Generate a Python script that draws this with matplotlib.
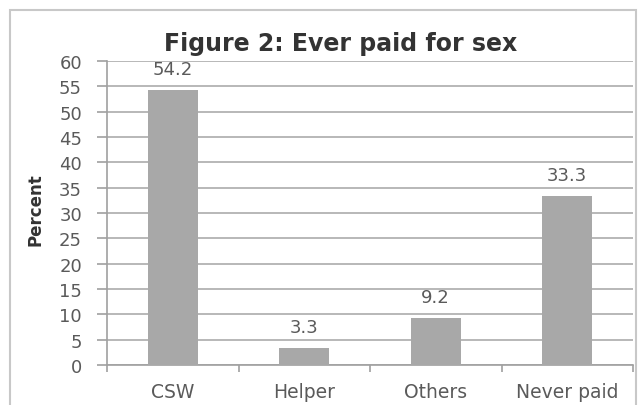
import matplotlib.pyplot as plt
from matplotlib.patches import Rectangle

categories = ["CSW", "Helper", "Others", "Never paid"]
percent = [54.2, 3.3, 9.2, 33.3]
yticks = list(range(0, 65, 5))

plt.rcParams['font.family'] = ['DejaVu Sans']

fig = plt.figure(figsize=(6.38, 4.06), dpi=100)
W, H = 638, 406

# outer chart frame
fig.patches.append(Rectangle((10 / W, -0.05), 626 / W, 1.05 - 11 / H,
                             transform=fig.transFigure, fill=False,
                             edgecolor="#c8c8c8", linewidth=1.5))

ax = fig.add_axes([107 / W, 1 - 366 / H, (633 - 107) / W, (366 - 62) / H])

x = list(range(len(categories)))
ax.bar(x, percent, width=0.38, color="#a8a8a8", zorder=3)

for xi, v in zip(x, percent):
    ax.text(xi, v + 2.5, "%.1f" % v, ha="center", va="bottom",
            fontsize=13, color="#5a5a5a")

ax.set_xlim(-0.5, len(categories) - 0.5)
ax.set_ylim(0, 60)
ax.set_yticks(yticks)
ax.set_yticklabels([str(t) for t in yticks], fontsize=13, color="#5a5a5a")
ax.yaxis.grid(True, color="#b8b8b8", linewidth=1.4, zorder=0)

ax.set_xticks(x)
ax.set_xticklabels(categories, fontsize=13.5, color="#5a5a5a")
ax.tick_params(axis="x", length=0, pad=12)
ax.set_xticks([i + 0.5 for i in range(-1, len(categories))], minor=True)
ax.tick_params(axis="x", which="minor", length=5, color="#a0a0a0", width=1.2)
ax.tick_params(axis="y", length=7, color="#a0a0a0", width=1.2, pad=11)

for s in ["top", "right"]:
    ax.spines[s].set_visible(False)
for s in ["left", "bottom"]:
    ax.spines[s].set_color("#a0a0a0")
    ax.spines[s].set_linewidth(1.2)

fig.text(35 / W, 1 - 210 / H, "Percent", rotation=90, ha="center", va="center",
         fontsize=12, fontweight="bold", color="#333333")
fig.text(341 / W, 1 - 44 / H, "Figure 2: Ever paid for sex", ha="center", va="center",
         fontsize=17, fontweight="bold", color="#333333")

fig.savefig("out.png", dpi=100)
